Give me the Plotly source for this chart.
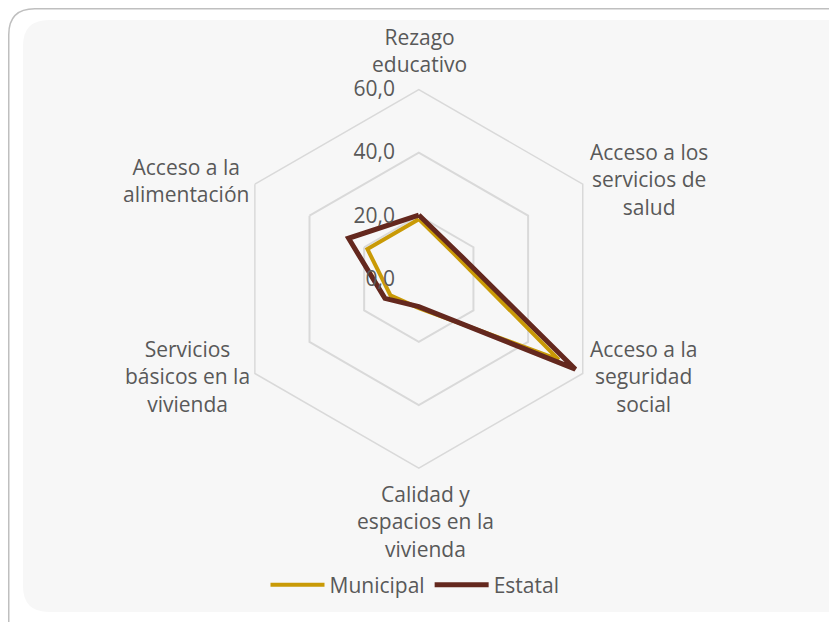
import plotly.graph_objects as go

categories = ["Rezago educativo", "Acceso a los servicios de salud", "Acceso a la seguridad social",
              "Calidad y espacios en la vivienda", "Servicios básicos en la vivienda", "Acceso a la alimentación"]
category_labels = ["Rezago<br>educativo", "Acceso a los<br>servicios de<br>salud", "Acceso a la<br>seguridad<br>social",
                   "Calidad y<br>espacios en la<br>vivienda", "Servicios<br>básicos en la<br>vivienda", "Acceso a la<br>alimentación"]
municipal = [18.9, 14.0, 51.2, 9.3, 10.4, 18.8]
estatal = [20.2, 15.1, 57.3, 8.8, 12.4, 25.7]
radial_ticks = [0, 20, 40, 60]

W, H = 837, 622
FONT = "Open Sans"
TXT = "#595959"
FS = 21

def closed(v):
    return list(v) + [v[0]]

fig = go.Figure()
fig.add_trace(go.Scatterpolar(r=closed(municipal), theta=closed(categories), mode="lines",
                              name="Municipal", line=dict(color="#C99A06", width=4)))
fig.add_trace(go.Scatterpolar(r=closed(estatal), theta=closed(categories), mode="lines",
                              name="Estatal", line=dict(color="#64281E", width=5)))

# polar domain: center (410.8, 270.8), radius 189.3 px (figure pixel coords)
cx, cy, R = 410.8, 270.8, 189.3
dom_x = [(cx - R) / W, (cx + R) / W]
dom_y = [1 - (cy + R) / H, 1 - (cy - R) / H]

def px(x):
    return x / W

def py(y):
    return 1 - y / H

def rounded(x0, y0, x1, y1, r):
    rx, ry = r / W, r / H
    X0, X1, Y0, Y1 = px(x0), px(x1), py(y0), py(y1)
    return (f"M{X0+rx},{Y0} L{X1-rx},{Y0} Q{X1},{Y0} {X1},{Y0-ry} "
            f"L{X1},{Y1+ry} Q{X1},{Y1} {X1-rx},{Y1} L{X0+rx},{Y1} Q{X0},{Y1} {X0},{Y1+ry} "
            f"L{X0},{Y0-ry} Q{X0},{Y0} {X0+rx},{Y0} Z")

# category label positions (figure px): centre x, centre y
label_pos = [(411.5, 43), (640.5, 171), (635, 368), (417, 513), (179, 368), (178, 172)]
annotations = []
for text, (lx, ly) in zip(category_labels, label_pos):
    annotations.append(dict(text=text, x=px(lx), y=py(ly), xref="paper", yref="paper",
                            xanchor="center", yanchor="middle", align="center", showarrow=False,
                            font=dict(family=FONT, size=FS, color=TXT)))

fig.update_layout(
    width=W, height=H,
    margin=dict(l=0, r=0, t=0, b=0),
    paper_bgcolor="white",
    plot_bgcolor="white",
    separators=", ",
    font=dict(family=FONT, size=FS, color=TXT),
    shapes=[
        dict(type="path", xref="paper", yref="paper", path=rounded(0.75, 0.75, 870, 650, 26),
             line=dict(color="#BFBFBF", width=1.5), fillcolor="white", layer="below"),
        dict(type="path", xref="paper", yref="paper", path=rounded(15, 12, 860, 604, 26),
             line=dict(width=0), fillcolor="#F7F7F7", layer="below"),
    ],
    annotations=annotations,
    polar=dict(
        domain=dict(x=dom_x, y=dom_y),
        bgcolor="rgba(0,0,0,0)",
        gridshape="linear",
        angularaxis=dict(
            direction="clockwise", rotation=90,
            tickmode="array", tickvals=categories, ticktext=category_labels,
            showticklabels=False,
            showgrid=False, showline=True, linecolor="#D9D9D9", linewidth=1.5,
            ticks="",
        ),
        radialaxis=dict(
            range=[0, 60], tickvals=radial_ticks, tickformat=".1f",
            angle=90, tickangle=90, side="counterclockwise",
            showline=False, ticks="outside", ticklen=16, tickcolor="rgba(0,0,0,0)",
            gridcolor="#D9D9D9", gridwidth=1.5,
            tickfont=dict(family=FONT, size=FS, color=TXT),
        ),
    ),
    legend=dict(orientation="h", x=px(407), y=py(577), xanchor="center", yanchor="middle",
                itemwidth=54,
                font=dict(family=FONT, size=FS, color=TXT), bgcolor="rgba(0,0,0,0)"),
)

fig.write_html("out.html")
